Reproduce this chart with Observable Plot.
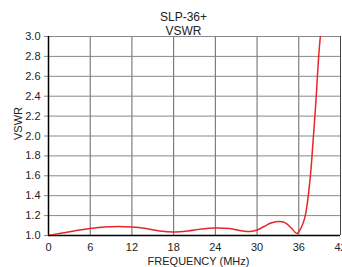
<!DOCTYPE html>
<html>
<head>
<meta charset="utf-8">
<script src="https://cdn.jsdelivr.net/npm/d3@7"></script>
<script src="https://cdn.jsdelivr.net/npm/@observablehq/plot@0.6"></script>
<style>
  body { margin: 0; background: white; }
  svg { font-family: "Liberation Sans", Arial, sans-serif; }
</style>
</head>
<body>
<div id="chart"></div>
<script>
const titleLines = ["SLP-36+", "VSWR"];
const xLabel = "FREQUENCY (MHz)";
const yLabel = "VSWR";
const xTicks = [0, 6, 12, 18, 24, 30, 36, 42];
const yTicks = [1.0, 1.2, 1.4, 1.6, 1.8, 2.0, 2.2, 2.4, 2.6, 2.8, 3.0];
const freq = [0, 2, 4, 6, 8, 10, 12, 14, 16, 18, 20, 22, 24, 26, 28, 29, 30, 31, 32, 33, 34, 35, 35.7, 36.2, 36.9, 37.6, 38.1, 38.5, 38.85, 39.1];
const vswr = [1.0, 1.025, 1.05, 1.07, 1.085, 1.09, 1.085, 1.07, 1.045, 1.035, 1.045, 1.065, 1.075, 1.07, 1.045, 1.04, 1.055, 1.09, 1.125, 1.14, 1.13, 1.07, 1.02, 1.06, 1.19, 1.55, 1.99, 2.39, 2.79, 3.0];

const data = freq.map((f, i) => ({f, v: vswr[i]}));

const chart = Plot.plot({
  width: 342,
  height: 267,
  marginLeft: 48,
  marginRight: 2,
  marginTop: 36,
  marginBottom: 32,
  style: {fontSize: "11px", color: "#222", background: "white", overflow: "hidden"},
  x: {domain: [0, 42], ticks: xTicks, tickSize: 0, tickPadding: 8, tickFormat: d => String(d), label: null},
  y: {domain: [1, 3], ticks: yTicks, tickSize: 4, tickPadding: 4, tickFormat: d3.format(".1f"), label: null},
  marks: [
    Plot.gridX(xTicks, {stroke: "#666", strokeOpacity: 1, strokeWidth: 1}),
    Plot.gridY(yTicks, {stroke: "#888", strokeOpacity: 1, strokeWidth: 1}),
    Plot.axisX({ticks: xTicks, tickSize: 0, tickPadding: 8, tickFormat: d => String(d), label: null}),
    Plot.axisY({ticks: yTicks, tickSize: 4, tickPadding: 4, stroke: "#888", tickFormat: d3.format(".1f"), label: null}),
    Plot.ruleX([42], {stroke: "#444", strokeWidth: 1}),
    Plot.ruleX([0], {stroke: "black", strokeWidth: 1.5}),
    Plot.ruleY([1], {stroke: "black", strokeWidth: 1.5}),
    Plot.line(data, {x: "f", y: "v", stroke: "#e8252b", strokeWidth: 1.5, curve: "catmull-rom", clip: true}),
    Plot.text([titleLines[0]], {frameAnchor: "top", dx: -11, dy: -24, text: d => d, fontSize: 12, fill: "#222"}),
    Plot.text([titleLines[1]], {frameAnchor: "top", dx: -11, dy: -10, text: d => d, fontSize: 12, fill: "#222"}),
    Plot.text([xLabel], {frameAnchor: "bottom", dx: 4, dy: 29, text: d => d, fontSize: 11, fill: "#222"}),
    Plot.text([yLabel], {frameAnchor: "left", dx: -30, dy: 4, rotate: -90, text: d => d, fontSize: 11, fill: "#222"})
  ]
});
document.getElementById("chart").appendChild(chart);
</script>
</body>
</html>
